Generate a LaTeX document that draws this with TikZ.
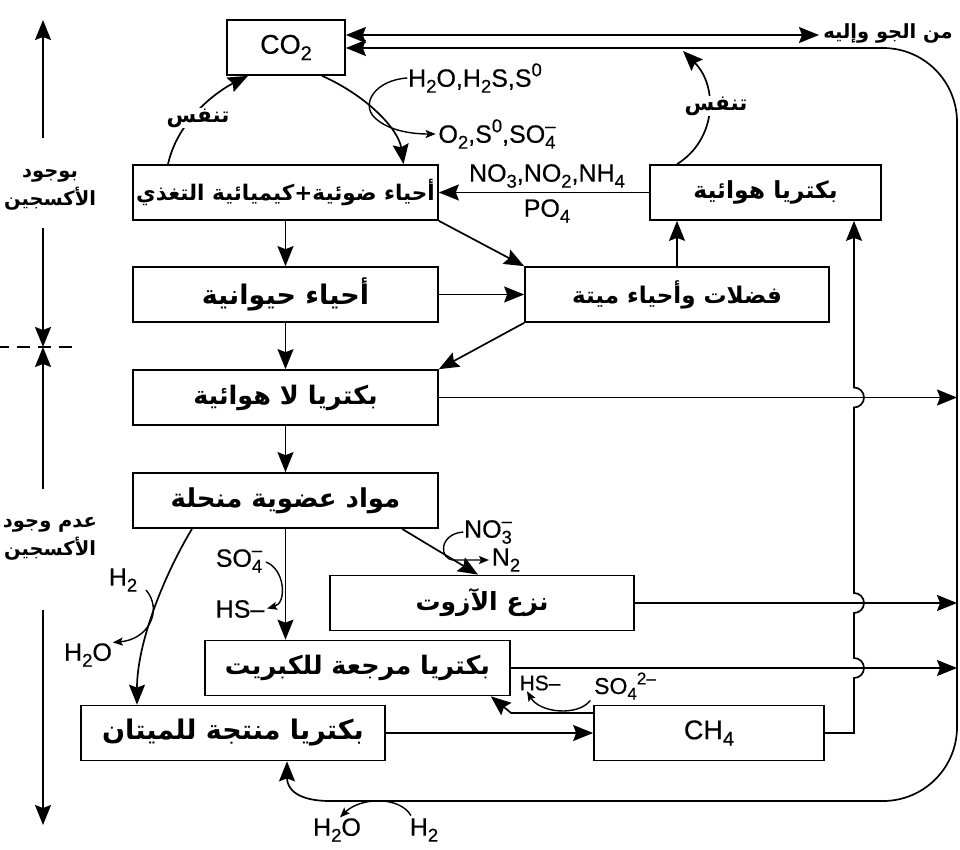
\documentclass[tikz,border=0pt]{standalone}
\usepackage{fontspec}
\setmainfont{Liberation Sans}[FakeBold=0.4]
\newfontfamily\arabicfont[Script=Arabic]{DejaVu Sans}
\TeXXeTstate=1
\usetikzlibrary{arrows.meta}
\newcommand\ar[1]{{\arabicfont\bfseries\beginR #1\endR}}
\newcommand\sbs[1]{\raisebox{-0.24em}{\scalebox{0.74}{#1}}}
\newcommand\sps[1]{\raisebox{0.42em}{\scalebox{0.74}{#1}}}
\newcommand\ssp[2]{\rlap{\sps{#2}}\sbs{#1}}
\newcommand\lat[1]{\fontsize{#1}{#1}\selectfont}
\newcommand\fs[1]{\fontsize{#1}{#1}\selectfont}
\begin{document}
\begin{tikzpicture}[x=1pt,y=1pt,line width=1.7pt,
  box/.style={draw,line width=1.7pt,inner sep=0pt,minimum height=55pt},
  big/.style={-{Stealth[length=20pt,width=16pt,inset=3pt]}},
  bigboth/.style={{Stealth[length=20pt,width=16pt,inset=3pt]}-{Stealth[length=20pt,width=16pt,inset=3pt]}},
  bigstart/.style={{Stealth[length=20pt,width=16pt,inset=3pt]}-},
  small/.style={-{Stealth[length=10pt,width=8pt,inset=2pt]},line width=1.4pt},
  lbl/.style={inner sep=0pt,font=\lat{25}},
  slbl/.style={inner sep=0pt,font=\lat{21}},
  artxt/.style={inner sep=1pt,font=\arabicfont\bfseries\fontsize{19.5}{28}\selectfont,align=center}]
\useasboundingbox (0,0) rectangle (960,-850);

% boxes
\node[box,minimum width=118pt,font=\lat{27}] (co2) at (286,-47.5) {CO\sbs{2}};
\node[box,minimum width=305pt,font=\fs{21.5}] (photo) at (285.5,-192.5) {\ar{أحياء ضوئية+كيميائية التغذي}};
\node[box,minimum width=305pt,font=\fs{27}] (animals) at (285.5,-294.5) {\ar{أحياء حيوانية}};
\node[box,minimum width=305pt,font=\fs{25.5}] (anaer) at (285.5,-397.5) {\ar{بكتريا لا هوائية}};
\node[box,minimum width=305pt,font=\fs{26}] (decomp) at (285.5,-500.5) {\ar{مواد عضوية منحلة}};
\node[box,minimum width=231pt,font=\fs{23.5}] (aerob) at (765.5,-192.5) {\ar{بكتريا هوائية}};
\node[box,minimum width=304pt,font=\fs{23}] (waste) at (677,-294.5) {\ar{فضلات وأحياء ميتة}};
\node[box,minimum width=304pt,font=\fs{25}] (denit) at (482,-603) {\ar{نزع الآزوت}};
\node[box,minimum width=305pt,font=\fs{25.5}] (sulf) at (357.5,-668) {\ar{بكتريا مرجعة للكبريت}};
\node[box,minimum width=304pt,font=\fs{27}] (methp) at (233,-733) {\ar{بكتريا منتجة للميتان}};
\node[box,minimum width=230pt,font=\lat{27}] (ch4) at (709,-733) {CH\sbs{4}};

% labels
\node[lbl] (hw) at (475,-78) {H\sbs{2}O,H\sbs{2}S,S\sps{0}};
\node[lbl] (os) at (497,-134) {O\sbs{2},S\sps{0},SO\ssp{4}{–}};
\node[lbl] (nn) at (547,-176) {NO\sbs{3},NO\sbs{2},NH\sbs{4}};
\node[lbl] (po) at (547,-211) {PO\sbs{4}};
\node[lbl] (no3) at (488,-532) {NO\ssp{3}{–}};
\node[lbl] (n2) at (506,-560) {N\sbs{2}};
\node[lbl] (so4a) at (239,-561) {SO\ssp{4}{–}};
\node[lbl] (hsa) at (240,-609) {HS–};
\node[lbl] (h2a) at (123,-580) {H\sbs{2}};
\node[lbl] (h2oa) at (88,-655) {H\sbs{2}O};
\node[slbl] (hsb) at (540,-683) {HS–};
\node[inner sep=0pt,font=\lat{23}] (so4b) at (625,-686) {SO\sbs{4}\sps{2–}};
\node[lbl] (h2ob) at (337,-830) {H\sbs{2}O};
\node[lbl] (h2b) at (424,-830) {H\sbs{2}};
\node[artxt,inner sep=0pt] (atmtxt) at (888,-33) {\beginR من الجو وإليه\endR};

% coordinates
\coordinate (atm) at (819,-35);
\coordinate (rb) at (957,-400);
\coordinate (vx) at (854,-400);
\coordinate (resp) at (683,-51);

% CO2 and atmosphere
\draw[bigboth] (co2.east |- atm) -- (atm);
\draw[bigstart,rounded corners=74pt] (co2.east |- 0,-48) -- (957,-48) -- (957,-801) -- (330,-801);
\draw[big] (330,-801) .. controls +(-32,0) and +(0,-28) .. ([xshift=54pt]methp.south);

% photosynthesis
\draw[big] ([xshift=36pt]co2.south) .. controls +(45,-20) and +(-5,35) .. ([xshift=118pt]photo.north);
\draw[small,shorten >=2pt] (hw.west) .. controls +(-32,-2) and +(-15,14) .. (375,-118) .. controls +(15,-14) and +(-22,0) .. (os.west);

% respiration
\draw[big] ([xshift=-117.5pt]photo.north) .. controls +(10,45) and +(-30,-15) .. ([xshift=-38pt]co2.south);
\node[artxt,fill=white,font=\arabicfont\bfseries\fontsize{21.5}{24}\selectfont] (resp1) at (198,-118) {\beginR تنفس\endR};
\draw[big] ([xshift=-88.5pt]aerob.north) .. controls +(40,25) and +(35,-35) .. (resp);
\node[artxt,fill=white,font=\arabicfont\bfseries\fontsize{21.5}{24}\selectfont] (resp2) at (716,-106) {\beginR تنفس\endR};

% flows
\draw[big] (aerob.west) -- (photo.east);
\draw[big] (photo.south) -- (animals.north);
\draw[big] (photo.south east) -- (waste.north west);
\draw[big] (animals.east) -- (waste.west);
\draw[big] (waste.south west) -- (anaer.north east);
\draw[big] (animals.south) -- (anaer.north);
\draw[big] (anaer.south) -- (decomp.north);
\draw[big] (waste.north) -- (waste.north |- aerob.south);
\draw[big] (anaer.east) -- (anaer.east -| rb);
\draw[big] (denit.east) -- (denit.east -| rb);
\draw[big] (sulf.east) -- (sulf.east -| rb);
\draw[big] (ch4.east) -- (ch4.east -| vx)
  -- ([yshift=-10pt]sulf.east -| vx) arc[start angle=-90,end angle=90,radius=10pt]
  -- ([yshift=-10pt]denit.east -| vx) arc[start angle=-90,end angle=90,radius=10pt]
  -- ([yshift=-10pt]anaer.east -| vx) arc[start angle=-90,end angle=90,radius=10pt]
  -- (aerob.south -| vx);

% sulfate reduction
\draw[big] (decomp.south) -- (decomp.south |- sulf.north);
\draw[small,shorten >=2pt,shorten <=3pt] (so4a.east) .. controls +(22,-8) and +(22,6) .. (hsa.east);

% methanogenesis from decomposed matter
\draw[big] ([xshift=-93.5pt]decomp.south) .. controls +(-30,-50) and +(0,60) .. ([xshift=-96pt]methp.north);
\draw[small] ([shift={(8,-10)}]h2a.east) .. controls +(17,-20) and +(36,3) .. (h2oa.north east);

% denitrification
\draw[big] ([xshift=116.5pt]decomp.south) -- ([xshift=-4pt]denit.north);
\draw[small,shorten >=2pt] (no3.west) .. controls +(-25,-2) and +(-15,0) .. ([xshift=-37pt]n2.west) -- (n2.west);

% methane
\draw[big] (methp.east) -- (ch4.west);
\draw[big] ([yshift=20pt]ch4.west) -- +(-82,0) -- ([xshift=-20pt]sulf.south east);
\draw[small] ([xshift=-3pt]so4b.south west) .. controls +(-12,-16) and +(13,-22) .. ([xshift=-13pt]hsb.south);

% bottom H2 -> H2O
\draw[small] ([shift={(2,2)}]h2b.north west) .. controls +(-12,20) and +(20,20) .. ([xshift=3pt]h2ob.north);

% oxygen axis
\node[artxt] (oxy) at (50,-190) {\beginR بوجود\endR\\\beginR الأكسجين\endR};
\node[artxt] (anoxy) at (50,-539) {\beginR عدم وجود\endR\\\beginR الأكسجين\endR};
\coordinate (a0) at (43,-20);
\coordinate (a1) at (43,-138);
\coordinate (a2) at (43,-228);
\coordinate (am) at (43,-347);
\coordinate (a3) at (43,-489);
\coordinate (a4) at (43,-610);
\coordinate (a5) at (43,-825);
\coordinate (d0) at (0,-347);
\coordinate (d1) at (73,-347);
\draw[big] (a1) -- (a0);
\draw[big] (a2) -- (am);
\draw[big] (a3) -- (am);
\draw[big] (a4) -- (a5);
\draw[dash pattern=on 13pt off 8pt,dash phase=4pt] (d0) -- (d1);
\end{tikzpicture}
\end{document}
